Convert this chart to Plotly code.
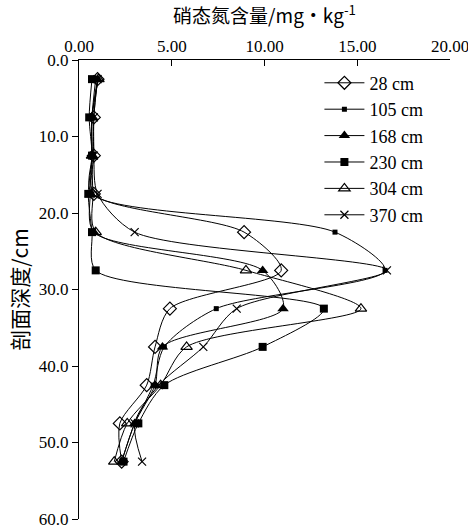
import plotly.graph_objects as go

depth = [2.5, 7.5, 12.5, 17.5, 22.5, 27.5, 32.5, 37.5, 42.5, 47.5, 52.5]
series_names = ["28 cm", "105 cm", "168 cm", "230 cm", "304 cm", "370 cm"]
v28 = [1.0, 0.8, 0.8, 0.8, 8.9, 10.9, 4.9, 4.1, 3.65, 2.2, 2.3]
v105 = [0.9, 0.7, 0.7, 0.7, 13.8, 16.5, 7.4, 4.6, 4.0, 3.0, 2.3]
v168 = [1.0, 0.7, 0.7, 0.6, 0.8, 9.9, 11.0, 4.5, 4.1, 3.0, 2.3]
v230 = [0.7, 0.55, 0.7, 0.5, 0.7, 0.9, 13.2, 9.9, 4.6, 3.2, 2.4]
v304 = [1.05, 0.7, 0.7, 0.75, 0.9, 9.0, 15.2, 5.8, 4.4, 2.6, 1.9]
v370 = [1.0, 0.8, 0.8, 1.0, 3.0, 16.6, 8.5, 6.7, 4.3, 3.0, 3.4]
values = [v28, v105, v168, v230, v304, v370]

markers = [
    dict(symbol="diamond-open", size=10, color="black", line=dict(width=1.2, color="black")),
    dict(symbol="square", size=5, color="black"),
    dict(symbol="triangle-up", size=10, color="black"),
    dict(symbol="square", size=8, color="black"),
    dict(symbol="triangle-up-open", size=10, color="black", line=dict(width=1.2, color="black")),
    dict(symbol="x-thin-open", size=8, color="black", line=dict(width=1.2, color="black")),
]

serif = "Liberation Serif, Times New Roman, serif"
cjk = "Noto Sans CJK SC"

fig = go.Figure()
for i, (name, vals) in enumerate(zip(series_names, values)):
    fig.add_trace(go.Scatter(
        x=vals, y=depth, name=name, mode="lines+markers",
        line=dict(color="black", width=1, shape="spline", smoothing=0.8),
        marker=markers[i], legendgroup=name,
    ))

fig.update_layout(
    width=468, height=528,
    margin=dict(l=79, r=18, t=60, b=9, autoexpand=False),
    paper_bgcolor="white", plot_bgcolor="white",
    font=dict(family=serif, size=17, color="black"),
    showlegend=True,
    legend=dict(x=0.648, y=0.99, xanchor="left", yanchor="top",
                font=dict(family=serif, size=18, color="black"), traceorder="grouped",
                tracegroupgap=0, bgcolor="rgba(0,0,0,0)", itemwidth=40),
    xaxis=dict(side="top", range=[0, 20], tickmode="linear", tick0=0, dtick=5,
               tickformat=".2f", ticklabeloverflow="allow", automargin=False,
               showgrid=False, zeroline=False, showline=True, linecolor="black",
               linewidth=1.2, ticks="inside", ticklen=6, tickcolor="black",
               tickfont=dict(family=serif, size=17, color="black"),
               title=dict(text="硝态氮含量/mg·kg<sup>-1</sup>", font=dict(family=cjk, size=19, color="black"), standoff=10)),
    yaxis=dict(range=[60, 0], tickmode="linear", tick0=0, dtick=10,
               tickformat=".1f", ticklabeloverflow="allow", automargin=False,
               showgrid=False, zeroline=False, showline=True, linecolor="black",
               linewidth=1.2, ticks="outside", ticklen=6, tickcolor="black",
               tickfont=dict(family=serif, size=17, color="black"),
               title=dict(text="剖面深度/cm", font=dict(family=cjk, size=21, color="black"), standoff=4)),
)

fig.write_html("out.html", config={"displayModeBar": False},
               post_script="document.body.style.margin='0';document.body.style.overflow='hidden';")
